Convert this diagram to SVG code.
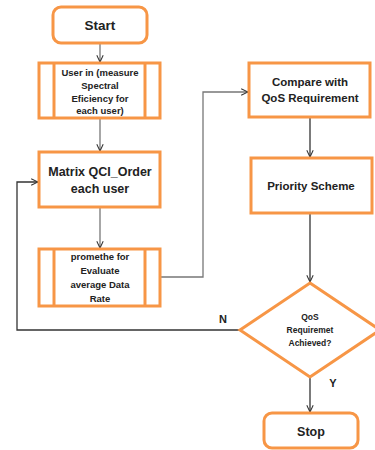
<svg xmlns="http://www.w3.org/2000/svg" width="375" height="450" viewBox="0 0 375 450">
<style>
.box{fill:#fff;stroke:#F79646;stroke-width:3}
.in{fill:none;stroke:#F79646;stroke-width:3}
.t{font-family:"Liberation Sans",Arial,sans-serif;font-weight:bold;fill:#222;text-anchor:middle}
.c{fill:none;stroke:#333;stroke-width:1.3}
.g{fill:none;stroke:#777;stroke-width:1.3}
</style>
<defs>
<marker id="ah" viewBox="0 0 10 10" refX="9.5" refY="5" markerWidth="8" markerHeight="8" markerUnits="userSpaceOnUse" orient="auto">
<polyline points="1,1 9.5,5 1,9" fill="none" stroke="#333" stroke-width="1.3"/>
</marker>
</defs>
<rect width="375" height="450" fill="#fff"/>
<g id="connectors">
<line class="g" x1="100" y1="43" x2="100" y2="62" marker-end="url(#ah)"/>
<line class="g" x1="100" y1="118" x2="100" y2="151" marker-end="url(#ah)"/>
<line class="g" x1="100" y1="207" x2="100" y2="248" marker-end="url(#ah)"/>
<polyline class="g" points="160,277 203,277 203,92 248,92" marker-end="url(#ah)"/>
<line class="c" x1="310" y1="117" x2="310" y2="157" marker-end="url(#ah)"/>
<line class="c" x1="310" y1="213" x2="310" y2="282" marker-end="url(#ah)"/>
<line class="c" x1="310" y1="377" x2="310" y2="412" marker-end="url(#ah)"/>
<polyline class="c" points="240,330 17,330 17,182 38,182" marker-end="url(#ah)"/>
<text class="t" x="223" y="323" font-size="11">N</text>
<text class="t" x="333" y="387" font-size="11">Y</text>
</g>
<g id="start">
<rect class="box" x="53" y="7" width="94" height="36" rx="8"/>
<text class="t" x="100" y="30" font-size="13.5">Start</text>
</g>
<g id="userin">
<rect class="box" x="39" y="63" width="121" height="55"/>
<line class="in" x1="54" y1="63" x2="54" y2="118"/>
<line class="in" x1="145" y1="63" x2="145" y2="118"/>
<text class="t" font-size="9.5"><tspan x="100" y="76">User in (measure</tspan><tspan x="100" y="89">Spectral</tspan><tspan x="100" y="102">Eficiency for</tspan><tspan x="100" y="114">each user)</tspan></text>
</g>
<g id="matrix">
<rect class="box" x="39" y="152" width="121" height="55"/>
<text class="t" font-size="12.5"><tspan x="100" y="176">Matrix QCI_Order</tspan><tspan x="100" y="193">each user</tspan></text>
</g>
<g id="promethe">
<rect class="box" x="39" y="249" width="121" height="57"/>
<line class="in" x1="54" y1="249" x2="54" y2="306"/>
<line class="in" x1="145" y1="249" x2="145" y2="306"/>
<text class="t" font-size="9.5"><tspan x="100" y="260">promethe for</tspan><tspan x="100" y="274">Evaluate</tspan><tspan x="100" y="288">average Data</tspan><tspan x="100" y="302">Rate</tspan></text>
</g>
<g id="compare">
<rect class="box" x="249" y="63" width="121" height="54"/>
<text class="t" font-size="11.5"><tspan x="310" y="86">Compare with</tspan><tspan x="310" y="102">QoS Requirement</tspan></text>
</g>
<g id="priority">
<rect class="box" x="251" y="158" width="121" height="55"/>
<text class="t" x="311" y="190" font-size="11.5">Priority Scheme</text>
</g>
<g id="decision">
<polygon class="box" points="310,283 380,330 310,377 240,330"/>
<text class="t" font-size="8.5"><tspan x="310" y="320">QoS</tspan><tspan x="310" y="333">Requiremet</tspan><tspan x="310" y="346">Achieved?</tspan></text>
</g>
<g id="stop">
<rect class="box" x="264" y="413" width="94" height="35" rx="8"/>
<text class="t" x="311" y="436" font-size="12.5">Stop</text>
</g>
</svg>
